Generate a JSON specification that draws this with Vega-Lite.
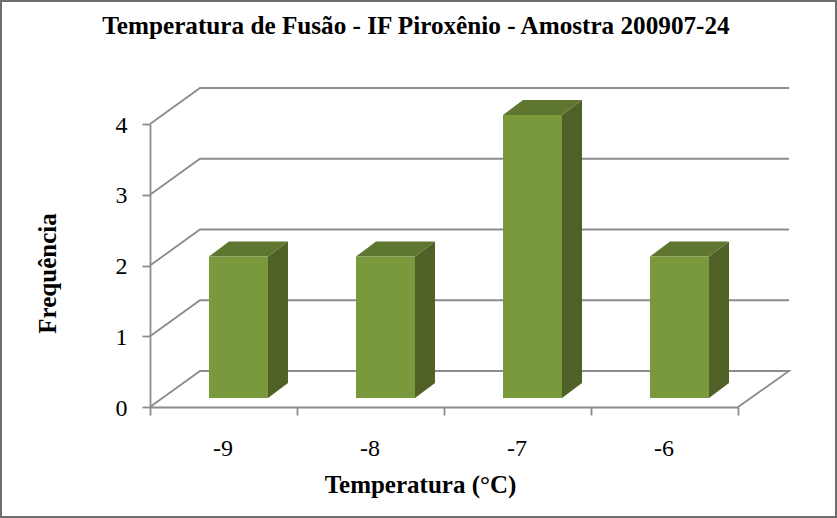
{
"$schema":"https://vega.github.io/schema/vega-lite/v6.json",
"width":588,"height":283,
"autosize":{"type":"none"},
"padding":{"left":150,"top":124,"right":99,"bottom":111},
"background":"#ffffff",
"config":{"view":{"stroke":null},"font":"Liberation Serif",
"axisX":{"titleFont":"Liberation Serif","titleFontSize":25,"titleFontWeight":"bold","titleColor":"#000000","titleX":270,"titleY":65,"labelFont":"Liberation Serif","labelFontSize":24,"labelColor":"#000000","labelAngle":0,"labelPadding":21,"labelOffset":-1,"tickBand":"extent","tickSize":8,"tickWidth":1.8,"tickColor":"#8c8c8c","domainColor":"#8c8c8c","domainWidth":1.8,"grid":false,"zindex":1},
"axisY":{"titleFont":"Liberation Serif","titleFontSize":25,"titleFontWeight":"bold","titleColor":"#000000","titleX":-90,"titleY":149,"titleAngle":270,"labelFont":"Liberation Serif","labelFontSize":24,"labelColor":"#000000","labelPadding":15,"labelOffset":1,"tickSize":8,"tickWidth":1.8,"tickColor":"#8c8c8c","domainColor":"#8c8c8c","domainWidth":1.8,"grid":false,"zindex":1}},
"title":{"text":"Temperatura de Fusão - IF Piroxênio - Amostra 200907-24","font":"Liberation Serif","fontSize":25.2,"fontWeight":"bold","color":"#000000","anchor":"middle","frame":"group","dx":-28,"offset":0,"dy":42},
"datasets":{"bars":[{"temperatura":-9,"frequencia":2},{"temperatura":-8,"frequencia":2},{"temperatura":-7,"frequencia":4},{"temperatura":-6,"frequencia":2}],"ticks":[{"tick":1},{"tick":2},{"tick":3},{"tick":4}]},
"layer":[
{"data":{"values":[{"frame":1}]},"mark":{"type":"point","shape":"M-443,-264.5L392,-264.5L392,251.5L-443,251.5Z","size":4,"filled":false,"fill":"transparent","stroke":"#6e6e6e","strokeWidth":2,"opacity":1},"encoding":{}},
{"data":{"name":"ticks"},"mark":{"type":"point","shape":"M-294,0L-244,-36L345,-36","size":4,"filled":false,"fill":"transparent","stroke":"#8c8c8c","strokeWidth":1.8,"opacity":1},"encoding":{"y":{"field":"tick","type":"quantitative","scale":{"domain":[0,4],"nice":false},"axis":{"title":"Frequência","values":[0,1,2,3,4],"format":"d"}}}},
{"data":{"values":[{"tick":0}]},"mark":{"type":"point","shape":"M-294,0L-244,-36L345,-36L294,0","size":4,"filled":false,"fill":"transparent","stroke":"#8c8c8c","strokeWidth":1.8,"opacity":1},"encoding":{"y":{"field":"tick","type":"quantitative","axis":{"title":"Frequência","values":[0,1,2,3,4],"format":"d"}}}},
{"data":{"name":"bars"},"mark":{"type":"point","size":4,"filled":true,"fill":"#4f6126","stroke":null,"opacity":1},"encoding":{
 "x":{"field":"temperatura","type":"ordinal","scale":{"paddingInner":0,"paddingOuter":0},"axis":{"title":"Temperatura (°C)"}},
 "y":{"field":"frequencia","type":"quantitative","axis":{"title":"Frequência","values":[0,1,2,3,4],"format":"d"}},
 "shape":{"field":"frequencia","type":"ordinal","legend":null,"scale":{"domain":[2,4],"range":["M44.5,-9L64.5,-24L64.5,117.5L44.5,132.5Z","M44.5,-9L64.5,-24L64.5,259L44.5,274Z"]}}}},
{"data":{"name":"bars"},"mark":{"type":"point","shape":"M-14.5,-9L5.5,-24L64.5,-24L44.5,-9Z","size":4,"filled":true,"fill":"#5f7630","stroke":null,"opacity":1},"encoding":{
 "x":{"field":"temperatura","type":"ordinal","axis":{"title":"Temperatura (°C)"}},
 "y":{"field":"frequencia","type":"quantitative","axis":{"title":"Frequência","values":[0,1,2,3,4],"format":"d"}}}},
{"data":{"name":"bars"},"mark":{"type":"bar","width":59,"xOffset":15,"yOffset":-9,"y2Offset":-9,"fill":"#7a983c"},"encoding":{
 "x":{"field":"temperatura","type":"ordinal","axis":{"title":"Temperatura (°C)"}},
 "y":{"field":"frequencia","type":"quantitative","axis":{"title":"Frequência","values":[0,1,2,3,4],"format":"d"}}}}
]
}
